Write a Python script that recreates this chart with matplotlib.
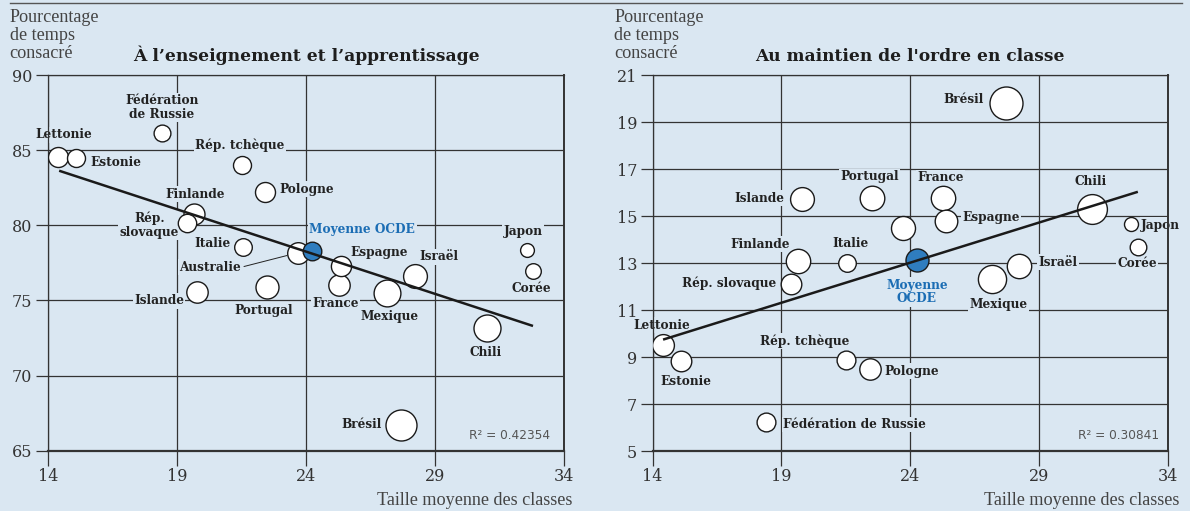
import matplotlib
matplotlib.use("Agg")
import matplotlib.pyplot as plt
from matplotlib.lines import Line2D

# ---------------- data ----------------
countries = ["Lettonie", "Estonie", "Fédération de Russie", "Finlande", "Rép. slovaque",
             "Islande", "Italie", "Rép. tchèque", "Pologne", "Portugal", "Australie",
             "Moyenne OCDE", "France", "Espagne", "Mexique", "Brésil", "Israël",
             "Chili", "Japon", "Corée"]
class_size = [14.41, 15.1, 18.42, 19.66, 19.38, 19.8, 21.56, 21.52, 22.42, 22.5, 23.71,
              24.26, 25.27, 25.37, 27.16, 27.7, 28.23, 31.04, 32.57, 32.82]
teaching = [84.57, 84.45, 86.12, 80.73, 80.17, 75.54, 78.58, 84.0, 82.2, 75.87, 78.18,
            78.31, 76.0, 77.29, 75.47, 66.71, 76.63, 73.14, 78.35, 76.96]
discipline = [9.5, 8.82, 6.24, 13.08, 12.09, 15.72, 13.01, 8.86, 8.47, 15.75, 14.5,
              13.12, 15.77, 14.78, 12.34, 19.82, 12.87, 15.31, 14.64, 13.66]
weight_left = [10, 9, 8.4, 10.5, 9.2, 10.7, 8.8, 9, 10, 11.5, 10.8,
               9.3, 10.7, 10.1, 13.4, 15.5, 11.9, 13.5, 6.9, 7.8]
weight_right = [10.9, 10.3, 9.4, 12.2, 10.3, 11.9, 8.8, 9.4, 10.7, 12.3, 12,
                11.5, 12.2, 11.3, 14.1, 16.5, 12.2, 14.9, 7, 8.3]
trend_left_x = [14.44, 32.81]
trend_left_y = [83.63, 73.3]
trend_right_x = [14.41, 32.83]
trend_right_y = [9.74, 16.03]
r2_left = "R² = 0.42354"
r2_right = "R² = 0.30841"
x_ticks = [14, 19, 24, 29, 34]
y_ticks_left = [65, 70, 75, 80, 85, 90]
y_ticks_right = [5, 7, 9, 11, 13, 15, 17, 19, 21]
title_left = "À l’enseignement et l’apprentissage"
title_right = "Au maintien de l'ordre en classe"
ylab = "Pourcentage\nde temps\nconsacré"
xlab = "Taille moyenne des classes"

# ---------------- label layout (pixel offsets, ha) ----------------
lab_left = {
    "Lettonie": (5.7, 21.7, "center", "Lettonie"),
    "Estonie": (14.2, -4, "left", "Estonie"),
    "Fédération de Russie": (0, 26, "center", "Fédération\nde Russie"),
    "Rép. tchèque": (-1.9, 20, "center", "Rép. tchèque"),
    "Pologne": (14.5, 3, "left", "Pologne"),
    "Finlande": (1, 20, "center", "Finlande"),
    "Rép. slovaque": (-37.2, -2.3, "center", "Rép.\nslovaque"),
    "Italie": (-11.9, 3.4, "right", "Italie"),
    "Moyenne OCDE": (-3, 20.7, "left", "Moyenne OCDE"),
    "Espagne": (38.5, 13.7, "center", "Espagne"),
    "Israël": (24.1, 19.3, "center", "Israël"),
    "Japon": (-3.8, 19, "center", "Japon"),
    "Corée": (-1.9, -17.3, "center", "Corée"),
    "Islande": (-13.4, -8.4, "right", "Islande"),
    "Portugal": (-3.6, -22.7, "center", "Portugal"),
    "France": (-3.2, -18, "center", "France"),
    "Mexique": (2.3, -22.7, "center", "Mexique"),
    "Chili": (-1.3, -24.4, "center", "Chili"),
    "Brésil": (-19.9, 0.7, "right", "Brésil"),
}
lab_right = {
    "Brésil": (-21.8, 3.7, "right", "Brésil"),
    "Portugal": (-2.1, 21.6, "center", "Portugal"),
    "France": (-2.6, 20.4, "center", "France"),
    "Islande": (-17.3, 0.7, "right", "Islande"),
    "Espagne": (16.6, 3.3, "left", "Espagne"),
    "Chili": (-0.9, 27, "center", "Chili"),
    "Japon": (10.2, -0.7, "left", "Japon"),
    "Finlande": (-38.2, 16.7, "center", "Finlande"),
    "Italie": (2.8, 19.4, "center", "Italie"),
    "Israël": (18.8, 3.7, "left", "Israël"),
    "Corée": (-0.6, -16, "center", "Corée"),
    "Rép. slovaque": (-14.7, 1, "right", "Rép. slovaque"),
    "Moyenne OCDE": (0, -31.7, "center", "Moyenne\nOCDE"),
    "Mexique": (6.8, -25.7, "center", "Mexique"),
    "Lettonie": (-1.1, 20, "center", "Lettonie"),
    "Estonie": (4.9, -20, "center", "Estonie"),
    "Rép. tchèque": (-42.1, 19.3, "center", "Rép. tchèque"),
    "Pologne": (14.7, -1.7, "left", "Pologne"),
    "Fédération de Russie": (16.6, -2.6, "left", "Fédération de Russie"),
}

BG = "#dae7f2"
GRID = "#333333"
BLUE = "#2f7dbf"
BLUE_TXT = "#1b6db4"
W, H = 1190, 511
DPI = 100

fig = plt.figure(figsize=(W / DPI, H / DPI), dpi=DPI, facecolor=BG)


def fx(px):
    return px / W


def fy(py):
    return 1 - py / H


def make_axes(x0, x1, y0, y1):
    ax = fig.add_axes([fx(x0), fy(y1), (x1 - x0) / W, (y1 - y0) / H])
    ax.set_facecolor(BG)
    return ax


def style_axes(ax, yt, ylim):
    ax.set_xlim(14, 34)
    ax.set_ylim(*ylim)
    ax.set_xticks(x_ticks)
    ax.set_yticks(yt)
    ax.set_axisbelow(True)
    ax.grid(True, color=GRID, lw=0.9)
    for s in ax.spines.values():
        s.set_color(GRID)
        s.set_linewidth(0.9)
    ax.spines["bottom"].set_linewidth(1.6)
    ax.spines["right"].set_linewidth(1.4)
    ax.tick_params(axis="x", length=10.8, width=0.9, color=GRID, pad=1.5,
                   labelsize=11.5, labelcolor="#333333")
    ax.tick_params(axis="y", length=8.6, width=0.9, color=GRID, pad=2.5,
                   labelsize=11.5, labelcolor="#333333")
    for lbl in ax.get_xticklabels() + ax.get_yticklabels():
        lbl.set_family("DejaVu Serif")


def draw_panel(ax, yvals, weights, labels, tx, ty):
    for i, c in enumerate(countries):
        is_avg = c == "Moyenne OCDE"
        d_pt = 2 * weights[i] * 72 / DPI
        ax.scatter([class_size[i]], [yvals[i]], s=d_pt ** 2,
                   facecolor=BLUE if is_avg else "white",
                   edgecolor="#1a1a1a", linewidth=1.0, zorder=3)
    ax.plot(tx, ty, color="#1a1a1a", lw=1.8, zorder=4, solid_capstyle="butt")
    for i, c in enumerate(countries):
        if c not in labels:
            continue
        dx, dy, ha, txt = labels[c]
        is_avg = c == "Moyenne OCDE"
        ax.annotate(txt, (class_size[i], yvals[i]), xytext=(dx, dy),
                    textcoords="offset pixels", ha=ha, va="center",
                    multialignment="center",
                    fontsize=8.7, fontweight="bold", family="DejaVu Serif",
                    color=BLUE_TXT if is_avg else "#222222",
                    linespacing=1.05, zorder=2,
                    bbox=dict(boxstyle="square,pad=0.12", fc=BG, ec="none"))


axL = make_axes(47.8, 563.7, 75, 450.7)
style_axes(axL, y_ticks_left, (65, 90))
draw_panel(axL, teaching, weight_left, lab_left, trend_left_x, trend_left_y)
# Australie with leader line
iA = countries.index("Australie")
axL.annotate("Australie", (class_size[iA], teaching[iA]), xytext=(-57.1, -14.6),
             textcoords="offset pixels", ha="right", va="center",
             fontsize=8.7, fontweight="bold", family="DejaVu Serif", color="#222222",
             zorder=2, bbox=dict(boxstyle="square,pad=0.12", fc=BG, ec="none"),
             arrowprops=dict(arrowstyle="-", color="#222222", lw=0.7,
                             shrinkA=1, shrinkB=weight_left[iA] * 0.72 + 0.5,
                             relpos=(1, 0.5)))

axR = make_axes(652.5, 1168, 75, 451)
style_axes(axR, y_ticks_right, (5, 21))
draw_panel(axR, discipline, weight_right, lab_right, trend_right_x, trend_right_y)

# text elements
t_tl = fig.text(fx(306.3), fy(61), title_left, ha="center", va="baseline",
                fontsize=12, fontweight="bold", family="DejaVu Serif", color="#1e1e1e")
t_tr = fig.text(fx(909.5), fy(61), title_right, ha="center", va="baseline",
                fontsize=12, fontweight="bold", family="DejaVu Serif", color="#1e1e1e")

ylab_texts = []
for x0 in (9.6, 614.3):
    for line, base in zip(ylab.split("\n"), (21.5, 40, 58.5)):
        ylab_texts.append(fig.text(fx(x0), fy(base), line, ha="left", va="baseline",
                                   fontsize=12.5, family="Liberation Serif",
                                   color="#444444"))

t_xl = fig.text(fx(572.8), fy(500.7), xlab, ha="right", va="center", fontsize=12,
                family="Liberation Serif", color="#444444")
t_xr = fig.text(fx(1179.5), fy(500.7), xlab, ha="right", va="center", fontsize=12,
                family="Liberation Serif", color="#444444")
t_rl = fig.text(fx(550.3), fy(435), r2_left, ha="right", va="center", fontsize=9.5,
                family="DejaVu Sans", color="#555555")
t_rr = fig.text(fx(1158.8), fy(435), r2_right, ha="right", va="center", fontsize=9.5,
                family="DejaVu Sans", color="#555555")

fig.add_artist(Line2D([fx(9.6), fx(1181.7)], [fy(2.7), fy(2.7)], color="#555555", lw=1.0))

# fit text widths to the reference
fig.canvas.draw()
r = fig.canvas.get_renderer()


def fit(t, target):
    w = t.get_window_extent(r).width
    return t.get_fontsize() * target / w


for t, tw in ((t_tl, 344), (t_tr, 306.6), (t_xl, 194.8), (t_xr, 194.8),
              (t_rl, 81.5), (t_rr, 81.5)):
    t.set_fontsize(fit(t, tw))
ys = fit(ylab_texts[0], 90)
for t in ylab_texts:
    t.set_fontsize(ys)

fig.savefig("out.png", dpi=DPI, facecolor=BG)
